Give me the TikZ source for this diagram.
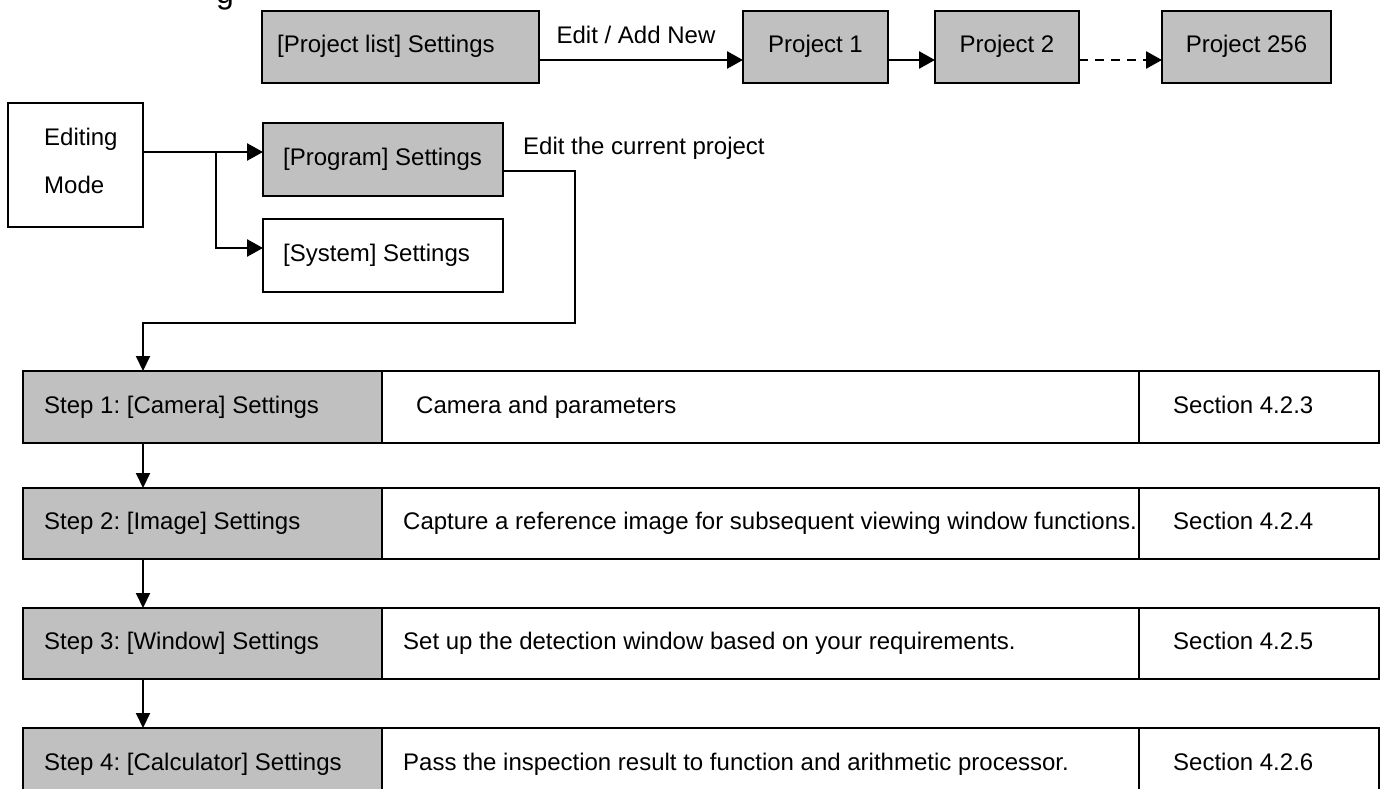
\documentclass[tikz,border=0pt]{standalone}
\usepackage{fontspec}
\setmainfont{Liberation Sans}
\usetikzlibrary{arrows.meta}
\definecolor{boxgray}{RGB}{192,192,192}
\frenchspacing
\begin{document}
\begin{tikzpicture}[x=1pt,y=-1pt,
  every node/.style={font=\fontsize{24}{28}\selectfont},
  gbox/.style={draw=black, line width=2pt, fill=boxgray, inner sep=0pt, outer sep=0pt},
  wbox/.style={draw=black, line width=2pt, fill=white, inner sep=0pt, outer sep=0pt},
  txt/.style={inner sep=0pt, text height=17pt, text depth=5pt},
  arr/.style={line width=2.6pt, -{Triangle[length=16pt,width=17pt]}},
  thinarr/.style={line width=2pt, -{Triangle[length=15pt,width=14pt]}},
]
\useasboundingbox (0,0) rectangle (1383,789);
\clip (0,0) rectangle (1383,789);

% cut-off heading fragment
\node[font=\fontsize{32}{32}\selectfont, inner sep=0pt, anchor=base] (frag) at (225,4) {g};

% top row
\node[gbox, minimum width=277pt, minimum height=72pt] (pl) at (400.5,47) {};
\node[txt, anchor=west] (plt) at ([xshift=15pt]pl.west) {[Project list] Settings};
\node[gbox, minimum width=145pt, minimum height=72pt, txt] (p1) at (815.5,47) {Project 1};
\node[gbox, minimum width=144pt, minimum height=72pt, txt] (p2) at (1007,47) {Project 2};
\node[gbox, minimum width=169pt, minimum height=72pt, txt] (p256) at (1246.5,47) {Project 256};

\draw[arr] ([yshift=-13pt]pl.east) -- node[txt, midway, yshift=22pt, xshift=-5pt] (eal) {Edit / Add New} ([yshift=-13pt]p1.west);
\draw[arr] ([yshift=-13pt]p1.east) -- ([yshift=-13pt]p2.west);
\draw[arr, dash pattern=on 9pt off 7pt] ([yshift=-13pt]p2.east) -- ([yshift=-13pt]p256.west);

% editing mode
\node[wbox, minimum width=135pt, minimum height=124pt] (em) at (75.5,165) {};
\node[txt, anchor=west] (emt1) at (44,139) {Editing};
\node[txt, anchor=west] (emt2) at (44,187) {Mode};

\node[gbox, minimum width=240pt, minimum height=73pt] (prog) at (383,159.5) {};
\node[txt, anchor=west] (progt) at ([xshift=20pt]prog.west) {[Program] Settings};
\node[wbox, minimum width=240pt, minimum height=73pt] (sys) at (383,255.5) {};
\node[txt, anchor=west] (syst) at ([xshift=20pt]sys.west) {[System] Settings};

\coordinate (br) at (216,152);
\draw[arr] ([yshift=13pt]em.east) -- ([yshift=7.5pt]prog.west);
\draw[arr] (br) |- ([yshift=7.5pt]sys.west);

\node[txt, anchor=west] (ecp) at (523,148) {Edit the current project};

% steps
\coordinate (ax) at (143,0);
\coordinate (fbr) at (575,323);

\node[gbox, minimum width=359pt, minimum height=72pt] (s1) at (202.5,407) {};
\node[wbox, minimum width=757pt, minimum height=72pt] (d1) at (760.5,407) {};
\node[wbox, minimum width=240pt, minimum height=72pt] (c1) at (1259,407) {};
\node[txt, anchor=west] (s1t) at ([xshift=21pt]s1.west) {Step 1: [Camera] Settings};
\node[txt, anchor=west] (d1t) at ([xshift=34pt]d1.west) {Camera and parameters};
\node[txt, anchor=west] (c1t) at ([xshift=34pt]c1.west) {Section 4.2.3};

\node[gbox, minimum width=359pt, minimum height=71pt] (s2) at (202.5,523.5) {};
\node[wbox, minimum width=757pt, minimum height=71pt] (d2) at (760.5,523.5) {};
\node[wbox, minimum width=240pt, minimum height=71pt] (c2) at (1259,523.5) {};
\node[txt, anchor=west] (s2t) at ([xshift=21pt]s2.west) {Step 2: [Image] Settings};
\node[txt, anchor=west] (d2t) at ([xshift=21pt]d2.west) {Capture a reference image for subsequent viewing window functions.};
\node[txt, anchor=west] (c2t) at ([xshift=34pt]c2.west) {Section 4.2.4};

\node[gbox, minimum width=359pt, minimum height=71pt] (s3) at (202.5,643.5) {};
\node[wbox, minimum width=757pt, minimum height=71pt] (d3) at (760.5,643.5) {};
\node[wbox, minimum width=240pt, minimum height=71pt] (c3) at (1259,643.5) {};
\node[txt, anchor=west] (s3t) at ([xshift=21pt]s3.west) {Step 3: [Window] Settings};
\node[txt, anchor=west] (d3t) at ([xshift=21pt]d3.west) {Set up the detection window based on your requirements.};
\node[txt, anchor=west] (c3t) at ([xshift=34pt]c3.west) {Section 4.2.5};

\node[gbox, minimum width=359pt, minimum height=72pt] (s4) at (202.5,764) {};
\node[wbox, minimum width=757pt, minimum height=72pt] (d4) at (760.5,764) {};
\node[wbox, minimum width=240pt, minimum height=72pt] (c4) at (1259,764) {};
\node[txt, anchor=west] (s4t) at ([xshift=21pt]s4.west) {Step 4: [Calculator] Settings};
\node[txt, anchor=west] (d4t) at ([xshift=21pt]d4.west) {Pass the inspection result to function and arithmetic processor.};
\node[txt, anchor=west] (c4t) at ([xshift=34pt]c4.west) {Section 4.2.6};

\draw[thinarr] ([yshift=25pt]prog.south east) -| (fbr) -| (s1.north -| ax);
\draw[thinarr] (s1.south -| ax) -- (s2.north -| ax);
\draw[thinarr] (s2.south -| ax) -- (s3.north -| ax);
\draw[thinarr] (s3.south -| ax) -- (s4.north -| ax);
\end{tikzpicture}
\end{document}
